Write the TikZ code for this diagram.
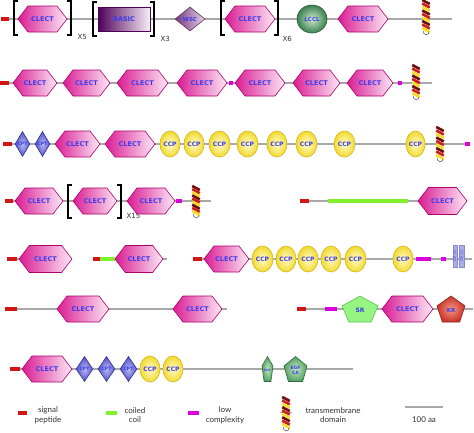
\documentclass[tikz,border=0pt]{standalone}
\usepackage{fontspec}
\setmainfont{Lato}
\newfontfamily\domf{DejaVu Sans}
\usetikzlibrary{shapes.geometric,shapes.symbols}
\definecolor{hexL}{RGB}{218,28,148}
\definecolor{hexR}{RGB}{252,232,246}
\definecolor{hexE}{RGB}{175,0,105}
\definecolor{dtext}{RGB}{60,60,235}
\definecolor{basL}{RGB}{78,0,88}
\definecolor{basR}{RGB}{248,238,248}
\definecolor{wscL}{RGB}{115,55,125}
\definecolor{wscR}{RGB}{232,212,236}
\definecolor{lcclO}{RGB}{60,128,80}
\definecolor{lcclI}{RGB}{205,232,205}
\definecolor{ccpO}{RGB}{242,218,45}
\definecolor{ccpI}{RGB}{255,252,210}
\definecolor{ccpE}{RGB}{212,182,30}
\definecolor{bdO}{RGB}{80,80,195}
\definecolor{bdI}{RGB}{185,185,245}
\definecolor{bdE}{RGB}{50,50,150}
\definecolor{srF}{RGB}{150,245,130}
\definecolor{srE}{RGB}{95,190,85}
\definecolor{krO}{RGB}{200,50,40}
\definecolor{krI}{RGB}{245,150,130}
\definecolor{egO}{RGB}{85,160,100}
\definecolor{egI}{RGB}{195,232,195}
\definecolor{egE}{RGB}{45,110,60}
\definecolor{sigred}{RGB}{210,22,22}
\definecolor{coilg}{RGB}{130,240,45}
\definecolor{lowm}{RGB}{220,0,220}
\definecolor{bbgray}{RGB}{168,168,168}
\definecolor{hxred}{RGB}{205,30,25}
\definecolor{hxyel}{RGB}{245,222,40}
\definecolor{hxdark}{RGB}{110,15,15}
\definecolor{erect}{RGB}{170,175,235}
\tikzset{
  bb/.style={draw=bbgray, line width=1.5pt},
  sig/.style={fill=sigred, minimum height=4pt, inner sep=0pt, draw=none, rectangle},
  coil/.style={fill=coilg, minimum height=4pt, inner sep=0pt, draw=none, rectangle},
  lowc/.style={fill=lowm, minimum height=4pt, minimum width=5pt, inner sep=0pt, draw=none, rectangle},
  dlab/.style={font=\domf\bfseries\fontsize{6.5}{7}\selectfont, text=dtext},
  clect/.style={signal, signal to=west and east, signal pointer angle=105,
     draw=hexE, line width=0.6pt, left color=hexL, right color=hexR,
     minimum height=26pt, minimum width=#1, inner sep=0pt, dlab},
  clect/.default=50pt,
  basic/.style={rectangle, draw=basL, line width=0.8pt, left color=basL, right color=basR,
     minimum width=52pt, minimum height=24pt, inner sep=0pt, dlab},
  wsc/.style={diamond, draw=wscL!80!black, line width=0.6pt, left color=wscL, right color=wscR,
     minimum width=30pt, minimum height=24pt, inner sep=0pt, dlab, font=\domf\bfseries\fontsize{5.5}{6}\selectfont},
  lccl/.style={ellipse, draw=lcclO!70!black, line width=0.6pt, inner color=lcclI, outer color=lcclO,
     minimum width=30pt, minimum height=28pt, inner sep=0pt, dlab, font=\domf\bfseries\fontsize{5.5}{6}\selectfont},
  ccp/.style={ellipse, draw=ccpE, line width=0.6pt, inner color=ccpI, outer color=ccpO,
     minimum width=20pt, minimum height=26pt, inner sep=0pt, dlab, font=\domf\bfseries\fontsize{6}{6}\selectfont},
  bdia/.style={diamond, draw=bdE, line width=0.6pt, inner color=bdI, outer color=bdO,
     minimum width=#1, minimum height=25pt, inner sep=0pt, dlab, font=\domf\bfseries\fontsize{4.5}{4.5}\selectfont},
  bdia/.default=16pt,
  erec/.style={rectangle, fill=erect, draw=erect!80!black, line width=0.3pt, minimum width=5pt, minimum height=22pt,
     inner sep=0pt, font=\domf\fontsize{3}{3}\selectfont, text=dtext},
  brk/.style={line width=1.6pt, black},
  xlab/.style={font=\domf\fontsize{7}{7}\selectfont, text=black!80},
  leg/.style={font=\fontsize{8}{9.5}\selectfont, text=black!80, align=center},
}
\newcommand\lbrk[3]{\draw[brk] ({#1+4},{#2}) -- ({#1},{#2}) -- ({#1},{#3}) -- ({#1+4},{#3});}
\newcommand\rbrk[3]{\draw[brk] ({#1-4},{#2}) -- ({#1},{#2}) -- ({#1},{#3}) -- ({#1-4},{#3});}
\newcommand\tmhelix[3]{%
  \pgfmathsetmacro\hstep{(#3-#2-8)/8}
  \foreach \c [count=\i from 0] in {hxdark,hxred,hxyel,hxdark,hxred,hxyel,hxdark,hxred,hxyel}{
    \draw[line width=2.6pt, \c] ({#1-3.8},{#2+\i*\hstep}) -- ({#1+3.8},{#2+\i*\hstep+4});
  }
  \draw[line width=0.5pt, black!70] ({#1+3},{#3-4}) arc[start angle=0, end angle=200, radius=2.8];
}
\newcommand\pent[7]{% cx cy w h name fillstyle drawcolor
  \path[#6] ({#1},{#2-#4/2}) -- ({#1+#3/2},{#2-#4/2+0.38*#4}) -- ({#1+0.31*#3},{#2+#4/2})
     -- ({#1-0.31*#3},{#2+#4/2}) -- ({#1-#3/2},{#2-#4/2+0.38*#4}) -- cycle;
  \draw[#7, line width=0.6pt] ({#1},{#2-#4/2}) -- ({#1+#3/2},{#2-#4/2+0.38*#4}) -- ({#1+0.31*#3},{#2+#4/2})
     -- ({#1-0.31*#3},{#2+#4/2}) -- ({#1-#3/2},{#2-#4/2+0.38*#4}) -- cycle;
  \coordinate (#5) at ({#1},{#2+1});
}
\begin{document}
\begin{tikzpicture}[x=1pt,y=-1pt]
\useasboundingbox (0,0) rectangle (474,432);
\fill[white] (0,0) rectangle (474,432);

% ---------------- Row 1 ----------------
\coordinate (r1a) at (2,19); \coordinate (r1b) at (452,19);
\draw[bb] (r1a) -- (r1b);
\node[sig, minimum width=8pt] (s1) at (4.5,19) {};
\lbrk{14}{1}{35}
\node[clect=49pt] (c11) at (42.5,19) {CLECT};
\rbrk{71}{1}{35}
\node[xlab, anchor=west] (x5) at (74,37) {X5};
\lbrk{93}{2}{36}
\node[basic] (bas) at (124,19) {BASIC};
\rbrk{154}{2}{36}
\node[xlab, anchor=west] (x3) at (157,39) {X3};
\node[wsc] (wsc) at (190,19) {WSC};
\lbrk{221}{1}{35}
\node[clect=50pt] (c12) at (250,19) {CLECT};
\rbrk{278}{1}{35}
\node[xlab, anchor=west] (x6) at (279,39) {X6};
\node[lccl] (lccl) at (312,19) {LCCL};
\node[clect=50pt] (c13) at (363,19) {CLECT};
\tmhelix{426}{0}{36}

% ---------------- Row 2 ----------------
\coordinate (r2a) at (0,83); \coordinate (r2b) at (432,83);
\draw[bb] (r2a) -- (r2b);
\node[sig, minimum width=9pt] (s2) at (4.5,83) {};
\node[clect=44pt] (c21) at (35,83) {CLECT};
\node[clect=47pt] (c22) at (86.5,83) {CLECT};
\node[clect=51pt] (c23) at (142.5,83) {CLECT};
\node[clect=50pt] (c24) at (202,83) {CLECT};
\node[lowc, minimum width=4pt] (l21) at (231,83) {};
\node[clect=50pt] (c25) at (260,83) {CLECT};
\node[clect=47pt] (c26) at (316.5,83) {CLECT};
\node[clect=46pt] (c27) at (370,83) {CLECT};
\node[lowc, minimum width=4pt] (l22) at (400,83) {};
\tmhelix{416}{65}{101}

% ---------------- Row 3 ----------------
\coordinate (r3a) at (3,144); \coordinate (r3b) at (470,144);
\draw[bb] (r3a) -- (r3b);
\node[sig, minimum width=9pt] (s3) at (7.5,144) {};
\node[bdia=15pt] (d31) at (22.5,144) {CPT};
\node[bdia=15pt] (d32) at (42.5,144) {CPT};
\node[clect=45pt] (c31) at (77.5,144) {CLECT};
\node[clect=50pt] (c32) at (130,144) {CLECT};
\node[ccp] (p31) at (170,144) {CCP};
\node[ccp] (p32) at (194,144) {CCP};
\node[ccp, minimum width=21pt] (p33) at (219.5,144) {CCP};
\node[ccp, minimum width=21pt] (p34) at (247.5,144) {CCP};
\node[ccp] (p35) at (277,144) {CCP};
\node[ccp, minimum width=21pt] (p36) at (306.5,144) {CCP};
\node[ccp, minimum width=21pt] (p37) at (344.5,144) {CCP};
\node[ccp, minimum width=19pt] (p38) at (415.5,144) {CCP};
\tmhelix{440}{127}{163}
\node[lowc, minimum width=5pt] (l31) at (467.5,144) {};

% ---------------- Row 4 ----------------
\coordinate (r4a) at (5,201); \coordinate (r4b) at (211,201);
\draw[bb] (r4a) -- (r4b);
\node[sig, minimum width=8pt] (s4) at (9,201) {};
\node[clect=48pt] (c41) at (39,201) {CLECT};
\lbrk{68}{185}{218}
\node[clect=44pt] (c42) at (95,201) {CLECT};
\rbrk{121}{185}{218}
\node[xlab, anchor=west] (x15) at (123,216) {X15};
\node[clect=48pt] (c43) at (151,201) {CLECT};
\node[lowc, minimum width=6pt] (l41) at (179,201) {};
\tmhelix{196}{186}{219}
\coordinate (r4c) at (300,201); \coordinate (r4d) at (467,201);
\draw[bb] (r4c) -- (r4d);
\node[sig, minimum width=9pt] (s4b) at (304.5,201) {};
\node[coil, minimum width=80pt] (g41) at (368,201) {};
\node[clect=49pt, minimum height=27pt] (c44) at (442.5,201) {CLECT};

% ---------------- Row 5 ----------------
\coordinate (r5a) at (7,259); \coordinate (r5b) at (72,259);
\draw[bb] (r5a) -- (r5b);
\node[sig, minimum width=10pt] (s5) at (12,259) {};
\node[clect=53pt, minimum height=27pt] (c51) at (45.5,259) {CLECT};
\coordinate (r5c) at (93,259); \coordinate (r5d) at (167,259);
\draw[bb] (r5c) -- (r5d);
\node[sig, minimum width=7pt] (s5b) at (96.5,259) {};
\node[coil, minimum width=15pt] (g51) at (107.5,259) {};
\node[clect=48pt, minimum height=27pt] (c52) at (139,259) {CLECT};
\coordinate (r5e) at (193,259); \coordinate (r5f) at (472,259);
\draw[bb] (r5e) -- (r5f);
\node[sig, minimum width=9pt] (s5c) at (197.5,259) {};
\node[clect=45pt] (c53) at (226.5,259) {CLECT};
\node[ccp, minimum width=21pt] (p51) at (262.5,259) {CCP};
\node[ccp] (p52) at (286,259) {CCP};
\node[ccp] (p53) at (308,259) {CCP};
\node[ccp] (p54) at (331,259) {CCP};
\node[ccp, minimum width=21pt] (p55) at (355.5,259) {CCP};
\node[ccp] (p56) at (403,259) {CCP};
\node[lowc, minimum width=15pt] (l51) at (423.5,259) {};
\node[lowc, minimum width=5pt] (l52) at (443.5,259) {};
\node[erec, minimum width=4.5pt] (e51) at (455,256) {\rotatebox{90}{EGF\_CA}};
\node[erec] (e52) at (462,256) {\rotatebox{90}{EGF\_CA}};

% ---------------- Row 6 ----------------
\coordinate (r6a) at (5,309); \coordinate (r6b) at (227,309);
\draw[bb] (r6a) -- (r6b);
\node[sig, minimum width=12pt] (s6) at (11,309) {};
\node[clect=52pt] (c61) at (83,309) {CLECT};
\node[clect=49pt] (c62) at (197.5,309) {CLECT};
\coordinate (r6c) at (297,309); \coordinate (r6d) at (473,309);
\draw[bb] (r6c) -- (r6d);
\node[sig, minimum width=9pt] (s6b) at (301.5,309) {};
\node[lowc, minimum width=12pt] (l61) at (331,309) {};
\pent{360}{309}{36}{26}{sr}{fill=srF}{srE}
\node[dlab, font=\domf\bfseries\fontsize{6}{6}\selectfont] (srt) at (sr) {SR};
\node[clect=51pt] (c63) at (407.5,309) {CLECT};
\pent{451}{309}{28}{26}{kr}{inner color=krI, outer color=krO}{krO!70!black}
\node[dlab, font=\domf\bfseries\fontsize{5.5}{6}\selectfont] (krt) at (kr) {KR};

% ---------------- Row 7 ----------------
\coordinate (r7a) at (10,369); \coordinate (r7b) at (353,369);
\draw[bb] (r7a) -- (r7b);
\node[sig, minimum width=10pt] (s7) at (15,369) {};
\node[clect=50pt] (c71) at (47,369) {CLECT};
\node[bdia=17pt] (d71) at (84.5,369) {CPT};
\node[bdia=17pt] (d72) at (106.5,369) {CPT};
\node[bdia=17pt] (d73) at (128.5,369) {CPT};
\node[ccp] (p71) at (150,369) {CCP};
\node[ccp] (p72) at (173,369) {CCP};
\pent{267.5}{369}{11}{25}{eg1}{inner color=egI, outer color=egO}{egE}
\node[dlab, font=\domf\bfseries\fontsize{3}{3}\selectfont] (eg1t) at (eg1) {EGF};
\pent{295.5}{369}{23}{25}{eg2}{inner color=egI, outer color=egO}{egE}
\node[dlab, font=\domf\bfseries\fontsize{4.5}{5}\selectfont, align=center] (eg2t) at (eg2) {EGF\\CA};

% ---------------- Legend ----------------
\node[sig, minimum width=9pt] (ls) at (22.5,413) {};
\node[leg] (lst) at (48,415) {signal\\peptide};
\node[coil, minimum width=11pt] (lc) at (111.5,413) {};
\node[leg] (lct) at (135,415) {coiled\\coil};
\node[lowc, minimum width=11pt] (ll) at (193.5,413) {};
\node[leg] (llt) at (225,415) {low\\complexity};
\coordinate (lha) at (280,412); \coordinate (lhb) at (292,412);
\draw[bb, line width=1pt] (lha) -- (lhb);
\tmhelix{286}{397}{432}
\node[leg] (lht) at (333,415) {transmembrane\\domain};
\coordinate (sca) at (405,407); \coordinate (scb) at (443,407);
\draw[bb] (sca) -- (scb);
\node[leg] (sct) at (424,420) {100 aa};
\end{tikzpicture}
\end{document}
